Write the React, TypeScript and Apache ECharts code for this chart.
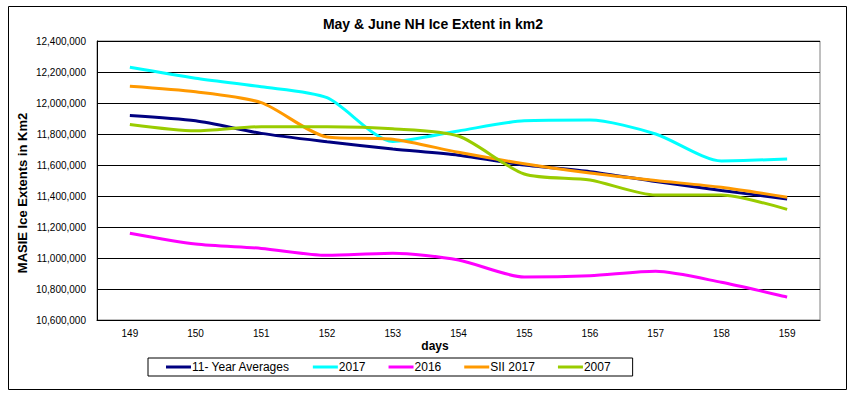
import React, { useEffect, useRef } from "react";
import * as echarts from "echarts";

const days = ["149", "150", "151", "152", "153", "154", "155", "156", "157", "158", "159"];
const avg11 = [11920000, 11885000, 11804000, 11750000, 11703000, 11663000, 11600000, 11557000, 11494000, 11436000, 11381000];
const y2017 = [12230000, 12160000, 12105000, 12034000, 11752000, 11820000, 11885000, 11890000, 11800000, 11626000, 11639000];
const y2016 = [11160000, 11090000, 11062000, 11017000, 11030000, 10987000, 10877000, 10886000, 10914000, 10843000, 10748000];
const sii2017 = [12108000, 12072000, 12002000, 11781000, 11766000, 11682000, 11608000, 11548000, 11500000, 11456000, 11392000];
const y2007 = [11862000, 11821000, 11847000, 11847000, 11834000, 11787000, 11542000, 11503000, 11406000, 11406000, 11314000];

const seriesNames = ["11- Year Averages", "2017", "2016", "SII 2017", "2007"];
const seriesColors = ["#000080", "#00FFFF", "#FF00FF", "#FF9900", "#99CC00"];
const seriesData = [avg11, y2017, y2016, sii2017, y2007];

const FONT = "'Liberation Sans', Arial, sans-serif";

export default function App() {
  const ref = useRef<HTMLDivElement>(null);
  useEffect(() => {
    if (!ref.current) return;
    const chart = echarts.init(ref.current, null, { renderer: "svg" });
    chart.setOption({
      animation: false,
      backgroundColor: "#ffffff",
      textStyle: { fontFamily: FONT },
      grid: {
        left: 97,
        top: 41,
        right: 34,
        bottom: 74,
        show: true,
        borderColor: "#808080",
        borderWidth: 1,
        backgroundColor: "transparent",
      },
      xAxis: {
        type: "category",
        data: days,
        boundaryGap: true,
        axisLine: { lineStyle: { color: "#000", width: 1 } },
        axisTick: { inside: true, length: 4, lineStyle: { color: "#000" } },
        axisLabel: { color: "#000", fontSize: 10, fontFamily: FONT, margin: 8 },
        splitLine: { show: false },
      },
      yAxis: {
        type: "value",
        min: 10600000,
        max: 12400000,
        interval: 200000,
        axisLine: { show: true, lineStyle: { color: "#000", width: 1 } },
        axisTick: { show: true, inside: true, length: 3, lineStyle: { color: "#000" } },
        axisLabel: {
          color: "#000",
          fontSize: 10,
          fontFamily: FONT,
          margin: 11,
          formatter: (v: number) => v.toLocaleString("en-US"),
        },
        splitLine: { show: true, lineStyle: { color: "#000", width: 1 } },
      },
      legend: {
        left: 148,
        top: 358,
        orient: "horizontal",
        data: seriesNames,
        icon: "rect",
        itemWidth: 25,
        itemHeight: 3,
        itemGap: 23,
        padding: [3, 22, 3, 18],
        borderColor: "#000",
        borderWidth: 1,
        textStyle: { color: "#000", fontSize: 12, fontFamily: FONT, lineHeight: 12, padding: [0, 0, 0, -4] },
      },
      graphic: [
        {
          type: "rect",
          shape: { x: 8.5, y: 6.5, width: 838, height: 383 },
          style: { fill: "none", stroke: "#000", lineWidth: 1 },
          silent: true,
        },
        {
          type: "text",
          x: 433,
          y: 24,
          style: {
            text: "May & June NH Ice Extent in km2",
            fontFamily: FONT,
            fontSize: 14,
            fontWeight: "bold",
            fill: "#000",
            textAlign: "center",
            textVerticalAlign: "middle",
          },
        },
        {
          type: "text",
          x: 22,
          y: 193,
          rotation: Math.PI / 2,
          style: {
            text: "MASIE Ice Extents in Km2",
            fontFamily: FONT,
            fontSize: 13,
            fontWeight: "bold",
            fill: "#000",
            textAlign: "center",
            textVerticalAlign: "middle",
          },
        },
        {
          type: "text",
          x: 435,
          y: 346,
          style: {
            text: "days",
            fontFamily: FONT,
            fontSize: 12,
            fontWeight: "bold",
            fill: "#000",
            textAlign: "center",
            textVerticalAlign: "middle",
          },
        },
      ],
      series: seriesNames.map((name, i) => ({
        name,
        type: "line",
        data: seriesData[i],
        smooth: 0.25,
        showSymbol: false,
        symbol: "none",
        lineStyle: { color: seriesColors[i], width: 3 },
        itemStyle: { color: seriesColors[i] },
        z: 2 + (i === 0 ? 0 : i),
      })),
    });
    return () => chart.dispose();
  }, []);
  return (
    <div
      ref={ref}
      style={{ position: "fixed", left: 0, top: 0, width: 854, height: 394, background: "#fff" }}
    />
  );
}
